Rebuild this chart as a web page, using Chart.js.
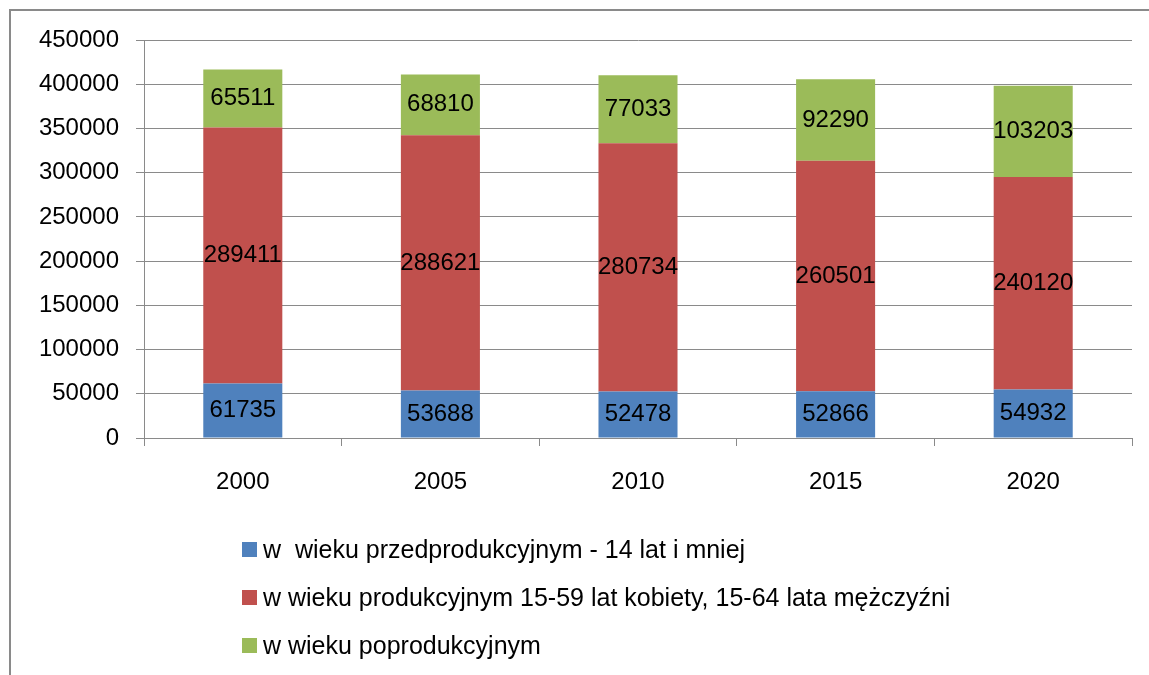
<!DOCTYPE html>
<html><head><meta charset="utf-8">
<script src="https://cdn.jsdelivr.net/npm/chart.js@4"></script>
<style>
html,body{margin:0;padding:0;background:#fff;overflow:hidden;}
#wrap{position:relative;width:1149px;height:675px;}
#frame{position:absolute;left:9px;top:9px;width:1200px;height:700px;border:2px solid #8a8a8a;box-sizing:border-box;}
canvas{position:absolute;left:0;top:0;}
#legend{position:absolute;left:242px;top:525px;font-family:"Liberation Sans",Arial,sans-serif;font-size:25px;color:#000;}
.item{display:flex;align-items:center;height:48px;white-space:pre;}
.sw{width:15px;height:15px;margin-right:6px;flex:none;}
</style></head>
<body>
<div id="wrap">
<div id="frame"></div>
<canvas id="c" width="1149" height="675"></canvas>
<div id="legend"></div>
</div>
<script>
const categories = ['2000','2005','2010','2015','2020'];
const seriesNames = [
  'w  wieku przedprodukcyjnym - 14 lat i mniej',
  'w wieku produkcyjnym 15-59 lat kobiety, 15-64 lata mężczyźni',
  'w wieku poprodukcyjnym'
];
const preProductive = [61735, 53688, 52478, 52866, 54932];
const productive = [289411, 288621, 280734, 260501, 240120];
const postProductive = [65511, 68810, 77033, 92290, 103203];
const colors = ['#4F81BD', '#C0504D', '#9BBB59'];
const yTicks = {min: 0, max: 450000, step: 50000};

const FONT = '"Liberation Sans", Arial, sans-serif';

const segLabels = {
  id: 'segLabels',
  afterDatasetsDraw(chart) {
    const ctx = chart.ctx;
    ctx.save();
    ctx.font = '24px ' + FONT;
    ctx.fillStyle = '#000';
    ctx.textAlign = 'center';
    ctx.textBaseline = 'middle';
    chart.data.datasets.forEach((ds, i) => {
      const meta = chart.getDatasetMeta(i);
      meta.data.forEach((bar, j) => {
        ctx.fillText(String(ds.data[j]), bar.x, (bar.y + bar.base) / 2);
      });
    });
    ctx.restore();
  }
};

const allSeries = [preProductive, productive, postProductive];
const chart = new Chart(document.getElementById('c'), {
  type: 'bar',
  data: {
    labels: categories,
    datasets: allSeries.map((d, i) => ({
      label: seriesNames[i],
      data: d,
      backgroundColor: colors[i],
      borderWidth: 0,
      categoryPercentage: 1,
      barPercentage: 0.4
    }))
  },
  options: {
    responsive: false,
    animation: false,
    devicePixelRatio: 1,
    layout: {padding: {left: 0, right: 17, top: 40, bottom: 0}},
    plugins: {legend: {display: false}, tooltip: {enabled: false}},
    scales: {
      x: {
        stacked: true,
        grid: {drawOnChartArea: false, drawTicks: true, tickLength: 8, color: '#8a8a8a', offset: true},
        border: {color: '#8a8a8a', width: 1},
        ticks: {font: {family: FONT, size: 24}, color: '#000', padding: 22},
        afterFit(s) { s.height = 675 - 438 - 0; }
      },
      y: {
        stacked: true,
        min: yTicks.min, max: yTicks.max,
        grid: {color: '#8a8a8a', lineWidth: 1, tickLength: 8},
        border: {color: '#8a8a8a', width: 1},
        ticks: {stepSize: yTicks.step, font: {family: FONT, size: 24}, color: '#000', padding: 17,
          callback: v => String(v)},
        afterFit(s) { s.width = 144; }
      }
    }
  },
  plugins: [segLabels]
});

const leg = document.getElementById('legend');
seriesNames.forEach((n, i) => {
  const it = document.createElement('div');
  it.className = 'item';
  const sw = document.createElement('span');
  sw.className = 'sw';
  sw.style.background = colors[i];
  const t = document.createElement('span');
  t.textContent = n;
  it.appendChild(sw); it.appendChild(t);
  leg.appendChild(it);
});
</script>
</body></html>
